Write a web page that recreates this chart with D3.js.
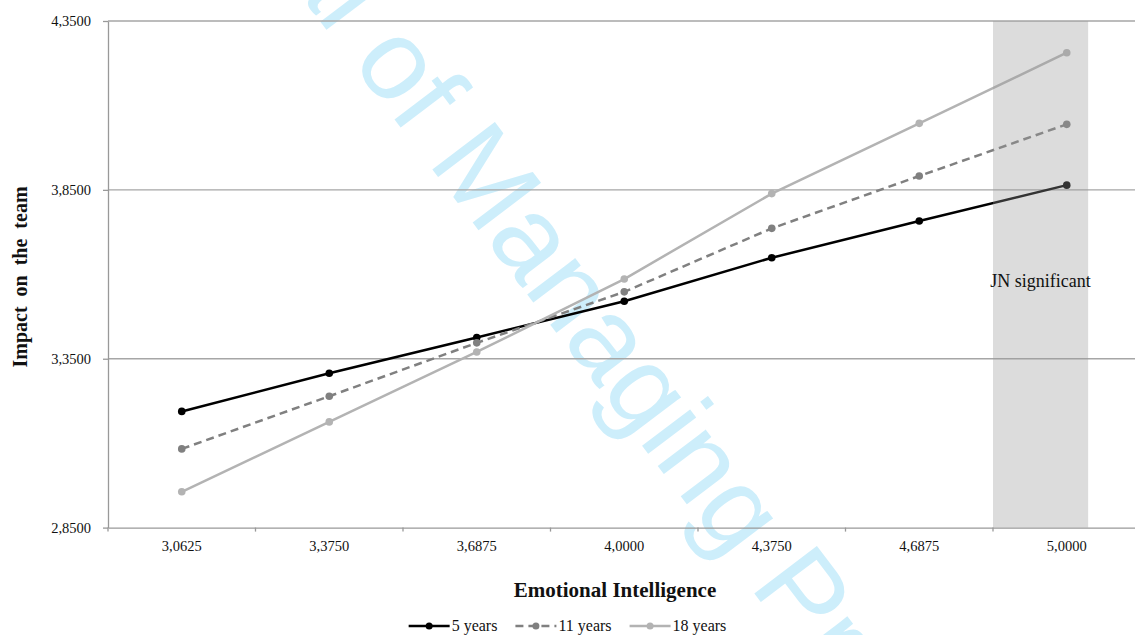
<!DOCTYPE html>
<html>
<head>
<meta charset="utf-8">
<script src="https://cdn.jsdelivr.net/npm/d3@7"></script>
<style>
    body { margin: 0; background: #fff; }
</style>
</head>
<body>
<div id="chart"></div>
<script>
const categories = ["3,0625", "3,3750", "3,6875", "4,0000", "4,3750", "4,6875", "5,0000"];
const seriesNames = ["5 years", "11 years", "18 years"];
const values5 = [3.194, 3.307, 3.413, 3.520, 3.649, 3.758, 3.864];
const values11 = [3.083, 3.239, 3.397, 3.548, 3.736, 3.891, 4.044];
const values18 = [2.956, 3.163, 3.370, 3.586, 3.839, 4.047, 4.256];
const yTicks = [2.85, 3.35, 3.85, 4.35];
// JN region, in category index units (0 = centre of first category)
const jnRegion = [5.5, 6.145];
const jnLabel = "JN significant";
const watermarkText = "Journal of Managing Projects in Business";

class InteractionChart {
    constructor(id) {
        this.id = id;
        this.width = 1135;
        this.height = 635;
        this.margin = { top: 21, left: 108 };
        this.plotWidth = 1032.5;
        this.plotHeight = 506.6;
        this.font = "'Liberation Serif', 'Times New Roman', serif";
        this.styles = [
            { color: "#000000", dash: null, marker: "#000000" },
            { color: "#808080", dash: "8,5", marker: "#808080" },
            { color: "#b3b3b3", dash: null, marker: "#b3b3b3" }
        ];
    }

    initialize() {
        this.svg = d3.select(this.id).append("svg")
            .attr("width", this.width)
            .attr("height", this.height);
        this.drawWatermark();
        this.g = this.svg.append("g")
            .attr("transform", `translate(${this.margin.left}, ${this.margin.top})`);
        this.x = d3.scaleBand().domain(categories).range([0, this.plotWidth]).padding(0);
        this.y = d3.scaleLinear().domain([2.85, 4.35]).range([this.plotHeight, 0]);
    }

    drawWatermark() {
        this.svg.append("text")
            .attr("transform", "translate(105, -262) rotate(52.8)")
            .style("font-family", "'Liberation Sans', Arial, sans-serif")
            .style("font-size", "114px")
            .style("fill", "#cdeefb")
            .text(watermarkText);
    }

    drawAxes() {
        const fmt = d => d3.format(".4f")(d).replace(".", ",");

        this.g.selectAll(".grid")
            .data(yTicks.slice(1))
            .enter().append("line")
            .attr("class", "grid")
            .attr("x1", 0)
            .attr("x2", this.plotWidth)
            .attr("y1", d => this.y(d))
            .attr("y2", d => this.y(d))
            .style("stroke", "#a6a6a6")
            .style("stroke-width", 1.3);

        const yAxis = this.g.append("g")
            .call(d3.axisLeft(this.y).tickValues(yTicks).tickFormat(fmt).tickSize(5).tickSizeOuter(0).tickPadding(12));
        yAxis.select(".domain").style("stroke", "#999").style("stroke-width", 1.3);
        yAxis.selectAll(".tick line").style("stroke", "#999").style("stroke-width", 1.3);
        yAxis.selectAll(".tick text")
            .style("font-family", this.font)
            .style("font-size", "14.5px")
            .style("fill", "#111");

        const xAxis = this.g.append("g")
            .attr("transform", `translate(0, ${this.plotHeight})`)
            .call(d3.axisBottom(this.x).tickSize(0).tickSizeOuter(0).tickPadding(13));
        xAxis.select(".domain").style("stroke", "#999").style("stroke-width", 1.3);
        xAxis.selectAll(".tick text")
            .style("font-family", this.font)
            .style("font-size", "14.5px")
            .style("fill", "#111");

        const bounds = categories.map(c => this.x(c)).concat([this.plotWidth]);
        this.g.selectAll(".xtick")
            .data(bounds)
            .enter().append("line")
            .attr("class", "xtick")
            .attr("x1", d => d)
            .attr("x2", d => d)
            .attr("y1", this.plotHeight)
            .attr("y2", this.plotHeight + 4)
            .style("stroke", "#999")
            .style("stroke-width", 1.3);
    }

    drawSeries() {
        const seriesValues = [values5, values11, values18];
        const cx = c => this.x(c) + this.x.bandwidth() / 2;
        const line = d3.line()
            .x((d, i) => cx(categories[i]))
            .y(d => this.y(d));

        seriesValues.forEach((vals, s) => {
            const st = this.styles[s];
            this.g.append("path")
                .datum(vals)
                .attr("d", line)
                .style("fill", "none")
                .style("stroke", st.color)
                .style("stroke-width", 2.5)
                .style("stroke-dasharray", st.dash);
            this.g.selectAll(`.pt${s}`)
                .data(vals)
                .enter().append("circle")
                .attr("class", `pt${s}`)
                .attr("cx", (d, i) => cx(categories[i]))
                .attr("cy", d => this.y(d))
                .attr("r", 3.8)
                .style("fill", st.marker);
        });
    }

    drawJnRegion() {
        const bw = this.x.bandwidth();
        const x0 = this.x(categories[0]) + (jnRegion[0] + 0.5) * bw;
        const x1 = this.x(categories[0]) + (jnRegion[1] + 0.5) * bw;
        this.g.append("rect")
            .attr("x", x0)
            .attr("y", 0)
            .attr("width", x1 - x0)
            .attr("height", this.plotHeight)
            .style("fill", "#979797")
            .style("opacity", 0.34);
        this.g.append("text")
            .attr("x", (x0 + x1) / 2)
            .attr("y", this.y(3.5625))
            .attr("text-anchor", "middle")
            .style("font-family", this.font)
            .style("font-size", "18px")
            .style("fill", "#111")
            .text(jnLabel);
    }

    drawTitles() {
        this.svg.append("text")
            .attr("transform", "translate(27, 277) rotate(-90)")
            .attr("text-anchor", "middle")
            .style("font-family", this.font)
            .style("font-size", "20px")
            .style("font-weight", "bold")
            .style("word-spacing", "5px")
            .style("fill", "#111")
            .text("Impact on the team");

        this.svg.append("text")
            .attr("x", 615)
            .attr("y", 597)
            .attr("text-anchor", "middle")
            .style("font-family", this.font)
            .style("font-size", "21px")
            .style("font-weight", "bold")
            .style("fill", "#111")
            .text("Emotional Intelligence");
    }

    drawLegend() {
        const legend = this.svg.append("g").attr("class", "legend");
        const symW = 41, gap = 18, ly = 626;
        let xPos = 0;
        seriesNames.forEach((name, s) => {
            const st = this.styles[s];
            const item = legend.append("g").attr("transform", `translate(${xPos}, 0)`);
            item.append("line")
                .attr("x1", 0).attr("x2", symW)
                .attr("y1", ly).attr("y2", ly)
                .style("stroke", st.color)
                .style("stroke-width", 2.5)
                .style("stroke-dasharray", st.dash);
            item.append("circle")
                .attr("cx", symW / 2).attr("cy", ly).attr("r", 3.5)
                .style("fill", st.marker);
            const t = item.append("text")
                .attr("x", symW + 2)
                .attr("y", ly + 5)
                .style("font-family", this.font)
                .style("font-size", "16px")
                .style("fill", "#111")
                .text(name);
            xPos += symW + 2 + t.node().getComputedTextLength() + gap;
        });
        const total = xPos - gap;
        legend.attr("transform", `translate(${(this.width - total) / 2}, 0)`);
    }

    render() {
        this.initialize();
        this.drawAxes();
        this.drawSeries();
        this.drawJnRegion();
        this.drawTitles();
        this.drawLegend();
    }
}

const chart = new InteractionChart("#chart");
chart.render();
</script>
</body>
</html>
